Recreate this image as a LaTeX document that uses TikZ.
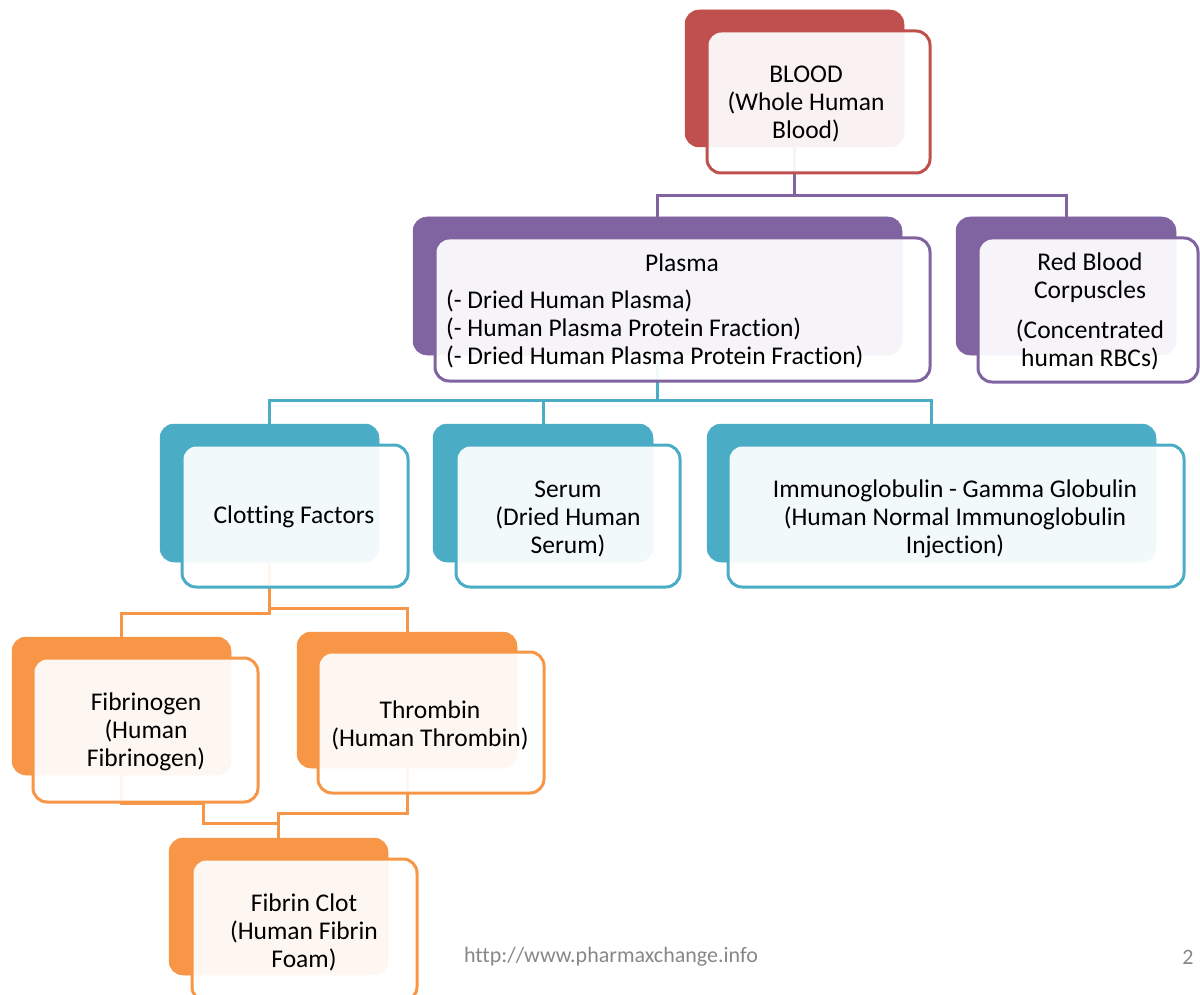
\documentclass[tikz,border=0pt]{standalone}
\usepackage{fontspec}
\setmainfont{Carlito}[Ligatures={NoCommon}]
\definecolor{cred}{HTML}{C0504D}
\definecolor{cpur}{HTML}{8064A2}
\definecolor{cteal}{HTML}{4BACC6}
\definecolor{corg}{HTML}{F79646}
\definecolor{cgray}{HTML}{878787}
\tikzset{
  backbox/.style={draw=#1, fill=#1, line width=0.5pt, rounded corners=14pt, inner sep=0pt, outer sep=0pt},
  frontbox/.style={draw=#1, line width=3pt, fill=white, fill opacity=0.93, rounded corners=14pt, inner sep=0pt, outer sep=0pt},
  conn/.style={draw=#1, line width=3pt},
  txt/.style={font=\fontsize{25.5}{28}\selectfont, align=center, inner sep=0pt, text=black},
  foot/.style={font=\fontsize{22}{24}\selectfont, text=cgray, inner sep=0pt},
}
\begin{document}
\begin{tikzpicture}[x=1pt,y=-1pt]
\useasboundingbox (0,0) rectangle (1200,995);
% back boxes
\node[backbox=cred, minimum width=219pt, minimum height=137pt] (bloodB) at (794.5,78.5) {};
\node[backbox=cpur, minimum width=489pt, minimum height=138pt] (plasmaB) at (657.5,286) {};
\node[backbox=cpur, minimum width=220pt, minimum height=138pt] (rbcB) at (1066,286) {};
\node[backbox=cteal, minimum width=219pt, minimum height=138pt] (clotB) at (269.5,493) {};
\node[backbox=cteal, minimum width=220pt, minimum height=138pt] (serumB) at (543,493) {};
\node[backbox=cteal, minimum width=449pt, minimum height=138pt] (immB) at (931.5,493) {};
\node[backbox=corg, minimum width=219pt, minimum height=138pt] (fibB) at (121.5,706) {};
\node[backbox=corg, minimum width=220pt, minimum height=136pt] (thrB) at (407,700) {};
\node[backbox=corg, minimum width=219pt, minimum height=137pt] (clotfB) at (278.5,906.5) {};
% junction levels
\coordinate (j1) at (0,196);
\coordinate (j2) at (0,400);
\coordinate (j3a) at (0,613);
\coordinate (j3b) at (0,608);
\coordinate (k1) at (203,803);
\coordinate (k2) at (0,823);
\coordinate (k3) at (0,813);
% connectors
\draw[conn=cpur] (bloodB.south) |- (plasmaB.north |- j1) -- (plasmaB.north);
\draw[conn=cpur] (bloodB.south) |- (rbcB.north |- j1) -- (rbcB.north);
\draw[conn=cteal] (plasmaB.south) |- (clotB.north |- j2) -- (clotB.north);
\draw[conn=cteal] (plasmaB.south) |- (serumB.north |- j2) -- (serumB.north);
\draw[conn=cteal] (plasmaB.south) |- (immB.north |- j2) -- (immB.north);
\draw[conn=corg] (clotB.south) |- (fibB.north |- j3a) -- (fibB.north);
\draw[conn=corg] (clotB.south) |- (thrB.north |- j3b) -- (thrB.north);
\draw[conn=corg] (fibB.south) |- (k1) |- (clotfB.north |- k2) -- (clotfB.north);
\draw[conn=corg] (thrB.south) |- (clotfB.north |- k3) -- (clotfB.north);
% front boxes
\node[frontbox=cred, minimum width=223pt, minimum height=142pt] (bloodF) at (818.5,102) {};
\node[frontbox=cpur, minimum width=495pt, minimum height=143pt] (plasmaF) at (682.5,309.5) {};
\node[frontbox=cpur, minimum width=220pt, minimum height=144pt] (rbcF) at (1088,310) {};
\node[frontbox=cteal, minimum width=226pt, minimum height=142pt] (clotF) at (295,516) {};
\node[frontbox=cteal, minimum width=224pt, minimum height=142pt] (serumF) at (568,516) {};
\node[frontbox=cteal, minimum width=456pt, minimum height=142pt] (immF) at (956,516) {};
\node[frontbox=corg, minimum width=225pt, minimum height=144pt] (fibF) at (145.5,730) {};
\node[frontbox=corg, minimum width=226pt, minimum height=141pt] (thrF) at (431,722.5) {};
\node[frontbox=corg, minimum width=225pt, minimum height=142pt] (clotfF) at (304.5,930) {};
% texts
\node[txt] (bloodT) at (806,104) {BLOOD\\(Whole Human\\Blood)};
\node[txt] (plasmaT) at (682,263) {Plasma};
\node[txt, align=left, anchor=west] (plasmaL) at (446,329) {(- Dried Human Plasma)\\(- Human Plasma Protein Fraction)\\(- Dried Human Plasma Protein Fraction)};
\node[txt] (rbcT) at (1090,311) {Red Blood\\Corpuscles\\[12pt](Concentrated\\human RBCs)};
\node[txt] (clotT) at (294,517) {Clotting Factors};
\node[txt] (serumT) at (568,519) {Serum\\(Dried Human\\Serum)};
\node[txt] (immT) at (955,519) {Immunoglobulin - Gamma Globulin\\(Human Normal Immunoglobulin\\Injection)};
\node[txt] (fibT) at (146,732) {Fibrinogen\\(Human\\Fibrinogen)};
\node[txt] (thrT) at (430,725) {Thrombin\\(Human Thrombin)};
\node[txt] (clotfT) at (304,932) {Fibrin Clot\\(Human Fibrin\\Foam)};
\node[foot] (url) at (611,957) {http://www.pharmaxchange.info};
\node[foot] (pnum) at (1188,957) {2};
\end{tikzpicture}
\end{document}
